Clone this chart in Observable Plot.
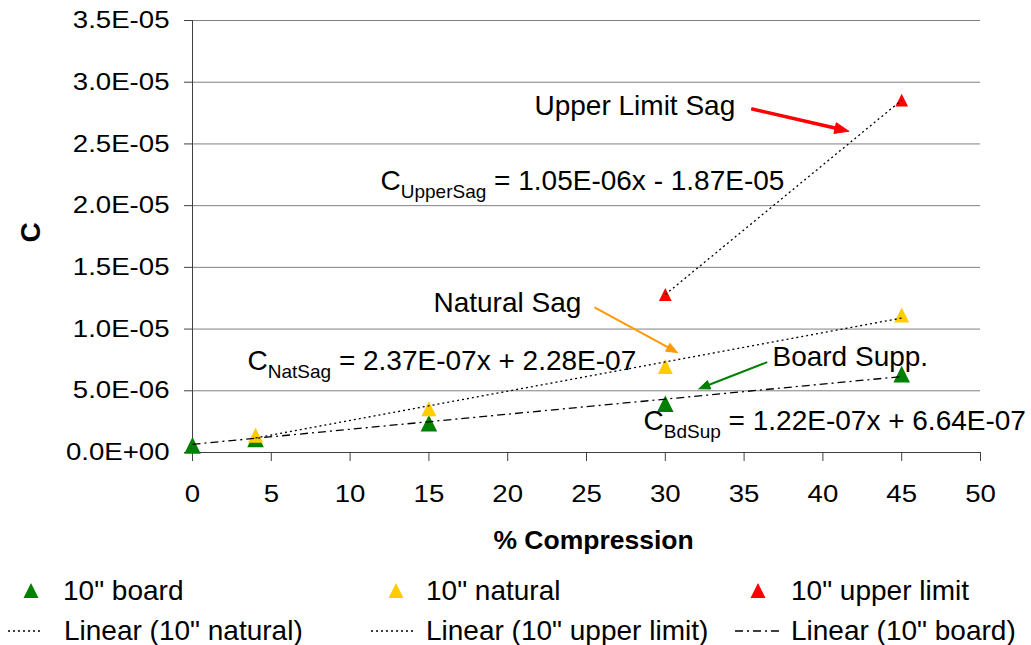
<!DOCTYPE html>
<html><head><meta charset="utf-8">
<script src="https://cdn.jsdelivr.net/npm/d3@7"></script>
<script src="https://cdn.jsdelivr.net/npm/@observablehq/plot@0.6"></script>
<style>
body{margin:0;background:#fff;font-family:"Liberation Sans",Arial,sans-serif;}
#legend{position:relative;width:1031px;height:75px;font-size:28px;color:#000;}
.item{position:absolute;height:40px;line-height:40px;white-space:nowrap;}
.sw{position:absolute;}
</style></head><body><div id="chart"></div><div id="legend"></div>
<script>
// ---- data ----
const boardX = [0, 4, 15, 30, 45];
const boardC = [0.58e-6, 1.1e-6, 2.37e-6, 3.95e-6, 6.35e-6];
const naturalX = [4, 15, 30, 45];
const naturalC = [1.4e-6, 3.55e-6, 6.97e-6, 11.15e-6];
const upperX = [30, 45];
const upperC = [12.8e-6, 28.55e-6];

const trendNames = ["board", "natural", "upper"];
const trendSlope = [1.22e-7, 2.37e-7, 1.05e-6];
const trendIntercept = [6.64e-7, 2.28e-7, -1.87e-5];
const trendFrom = [0, 4, 30];
const trendTo = [45, 45, 45];

const xTicks = [0, 5, 10, 15, 20, 25, 30, 35, 40, 45, 50];
const yTicks = [0, 5e-6, 1e-5, 1.5e-5, 2e-5, 2.5e-5, 3e-5, 3.5e-5];

const labelText = ["Upper Limit Sag", "Natural Sag", "Board Supp."];
const labelX = [21.7, 15.29, 36.8];
const labelY = [28.11e-6, 12.07e-6, 7.7e-6];

const eqMain = ["C", "C", "C"];
const eqSub = ["UpperSag", "NatSag", "BdSup"];
const eqRest = [" = 1.05E-06x - 1.87E-05", " = 2.37E-07x + 2.28E-07", " = 1.22E-07x + 6.64E-07"];
const eqX = [11.93, 3.49, 28.62];
const eqY = [22.0e-6, 7.45e-6, 2.51e-6];

const arrowX1 = [35.45, 25.51, 36.47];
const arrowY1 = [27.85e-6, 11.75e-6, 7.32e-6];
const arrowX2 = [41.64, 30.77, 32.13];
const arrowY2 = [26.03e-6, 8.10e-6, 5.16e-6];

const legendLabels = ['10" board', '10" natural', '10" upper limit', 'Linear (10" natural)', 'Linear (10" upper limit)', 'Linear (10" board)'];

// ---- styles ----
const GREEN = "#008000", YELLOW = "#FFCC00", RED = "#FF0000", ORANGE = "#FF9900";
const arrowColor = [RED, ORANGE, GREEN];
const arrowWidth = [3.5, 2, 2];
const headLen = [14, 11, 11];
const headWid = [11, 9, 9];
const trendDash = ["8,4,2,4", "2,3", "2,3"];

const W = 1031, H = 570;
const M = {left: 192, right: 51, top: 20, bottom: H - 452};
const xs = d3.scaleLinear([0, 50], [M.left, W - M.right]);
const ys = d3.scaleLinear([0, 3.5e-5], [H - M.bottom, M.top]);

function fmt(d) {
  const [m, e] = d.toExponential(1).split("e");
  const en = +e;
  return m + "E" + (en < 0 ? "-" : "+") + String(Math.abs(en)).padStart(2, "0");
}

const tri = {draw(ctx, size) { const r = Math.sqrt(size / Math.PI); ctx.moveTo(0, -r); ctx.lineTo(r, r); ctx.lineTo(-r, r); ctx.closePath(); }};

const board = boardX.map((x, i) => ({x, y: boardC[i]}));
const natural = naturalX.map((x, i) => ({x, y: naturalC[i]}));
const upper = upperX.map((x, i) => ({x, y: upperC[i]}));
const trends = trendNames.map((n, i) => [trendFrom[i], trendTo[i]].map(x => ({x, y: trendSlope[i] * x + trendIntercept[i], n})));

const labels = labelText.map((t, i) => ({t, x: labelX[i], y: labelY[i]}));
const eqs = eqMain.map((m, i) => ({t: m + "|" + eqSub[i] + "|" + eqRest[i], x: eqX[i], y: eqY[i]}));

const shafts = [], heads = [];
arrowX1.forEach((_, i) => {
  const x1 = xs(arrowX1[i]), y1 = ys(arrowY1[i]), x2 = xs(arrowX2[i]), y2 = ys(arrowY2[i]);
  const dx = x2 - x1, dy = y2 - y1, len = Math.hypot(dx, dy), ux = dx / len, uy = dy / len;
  const L = headLen[i], w = headWid[i] / 2;
  const bx = x2 - ux * L, by = y2 - uy * L;
  const ex = bx + ux * 2, ey = by + uy * 2;
  shafts.push({x1: arrowX1[i], y1: arrowY1[i], x2: xs.invert(ex), y2: ys.invert(ey), c: arrowColor[i], w: arrowWidth[i]});
  const pts = [[x2, y2], [bx - uy * w, by + ux * w], [bx + uy * w, by - ux * w], [x2, y2]];
  heads.push(pts.map(([px, py]) => ({x: xs.invert(px), y: ys.invert(py)})));
});

const chart = Plot.plot({
  width: W, height: H,
  marginLeft: M.left, marginRight: M.right, marginTop: M.top, marginBottom: M.bottom,
  style: {fontFamily: "'Liberation Sans', Arial, sans-serif", color: "#000", background: "#fff", overflow: "visible"},
  x: {domain: [0, 50]},
  y: {domain: [0, 3.5e-5]},
  marks: [
    Plot.gridY(yTicks, {stroke: "#808080", strokeOpacity: 1, strokeWidth: 1}),
    Plot.ruleX([0], {stroke: "#404040", strokeWidth: 1}),
    Plot.ruleY([0], {stroke: "#404040", strokeWidth: 1}),
    Plot.axisY({ticks: yTicks, tickFormat: fmt, tickSize: 8, tickPadding: 15, label: null, fontSize: 24, stroke: "#404040"}),
    Plot.axisX({ticks: xTicks, tickSize: 9, tickPadding: 23, label: null, fontSize: 24, stroke: "#404040"}),
    Plot.text(["% Compression"], {text: d => d, frameAnchor: "bottom", dy: 96, dx: 7, fontSize: 26.5, fontWeight: "bold"}),
    Plot.text(["C"], {text: d => d, frameAnchor: "left", dx: -161, dy: 6, rotate: -90, fontSize: 28, fontWeight: "bold"}),
    Plot.dot(board, {x: "x", y: "y", symbol: tri, r: 8.3, fill: GREEN, stroke: null}),
    Plot.dot(natural, {x: "x", y: "y", symbol: tri, r: 7.5, fill: YELLOW, stroke: null}),
    Plot.dot(upper, {x: "x", y: "y", symbol: tri, r: 6.4, fill: RED, stroke: null}),
    ...trends.map((t, i) => Plot.line(t, {x: "x", y: "y", stroke: "#000", strokeWidth: 1.3, strokeDasharray: trendDash[i], strokeLinecap: "butt"})),
    Plot.link(shafts, {x1: "x1", y1: "y1", x2: "x2", y2: "y2", stroke: "c", strokeWidth: "w", strokeLinecap: "butt"}),
    ...heads.map((h, i) => Plot.line(h, {x: "x", y: "y", fill: arrowColor[i], stroke: arrowColor[i], strokeWidth: 1, curve: "linear"})),
    Plot.text(labels, {x: "x", y: "y", text: "t", textAnchor: "start", fontSize: 28}),
    Plot.text(eqs, {x: "x", y: "y", text: "t", textAnchor: "start", fontSize: 28})
  ]
});
document.getElementById("chart").appendChild(chart);

// horizontally widen tick labels (as in the reference rendering)
const SX = 1.15;
chart.querySelectorAll('g[aria-label="y-axis tick label"] text, g[aria-label="x-axis tick label"] text').forEach(t => {
  const L = t.getComputedTextLength();
  if (L > 0) {
    t.setAttribute("textLength", (L * SX).toFixed(2));
    t.setAttribute("lengthAdjust", "spacingAndGlyphs");
  }
});
// subscripts in equations
const NS = "http://www.w3.org/2000/svg";
chart.querySelectorAll("text").forEach(t => {
  if (!t.textContent.includes("|")) return;
  const [a, b, c] = t.textContent.split("|");
  t.textContent = "";
  t.style.whiteSpace = "pre";
  const s1 = document.createElementNS(NS, "tspan"); s1.textContent = a;
  const s2 = document.createElementNS(NS, "tspan"); s2.textContent = b; s2.setAttribute("font-size", "19"); s2.setAttribute("dy", "8");
  const s3 = document.createElementNS(NS, "tspan"); s3.textContent = c; s3.setAttribute("dy", "-8");
  t.append(s1, s2, s3);
});

// ---- legend ----
const leg = document.getElementById("legend");
const top0 = H;
const rows = [591, 631];
const items = [
  {sw: "tri", c: GREEN, sx: 31, tx: 63, row: 0},
  {sw: "tri", c: YELLOW, sx: 396, tx: 426, row: 0},
  {sw: "tri", c: RED, sx: 758, tx: 791, row: 0},
  {sw: "line", d: "2,3", sx0: 8, sx1: 42, tx: 64, row: 1},
  {sw: "line", d: "2,3", sx0: 371, sx1: 414, tx: 426, row: 1},
  {sw: "line", d: "8,4,2,4", sx0: 735, sx1: 782, tx: 791, row: 1}
];
items.forEach((it, i) => {
  const cy = rows[it.row] - top0;
  const d = document.createElement("div");
  d.className = "item"; d.style.left = it.tx + "px"; d.style.top = (cy - 20) + "px";
  d.textContent = legendLabels[i];
  leg.appendChild(d);
  const s = document.createElementNS(NS, "svg");
  s.setAttribute("class", "sw");
  s.setAttribute("width", 60); s.setAttribute("height", 20);
  if (it.sw === "tri") {
    s.style.left = (it.sx - 30) + "px"; s.style.top = (cy - 10) + "px";
    const p = document.createElementNS(NS, "path");
    p.setAttribute("d", "M30,2 L37.5,17 L22.5,17 Z"); p.setAttribute("fill", it.c);
    s.appendChild(p);
  } else {
    s.style.left = it.sx0 + "px"; s.style.top = (cy - 10) + "px";
    const l = document.createElementNS(NS, "line");
    l.setAttribute("x1", 0); l.setAttribute("x2", it.sx1 - it.sx0); l.setAttribute("y1", 10); l.setAttribute("y2", 10);
    l.setAttribute("stroke", "#000"); l.setAttribute("stroke-width", 1.3); l.setAttribute("stroke-dasharray", it.d);
    s.appendChild(l);
  }
  leg.appendChild(s);
});
</script></body></html>
